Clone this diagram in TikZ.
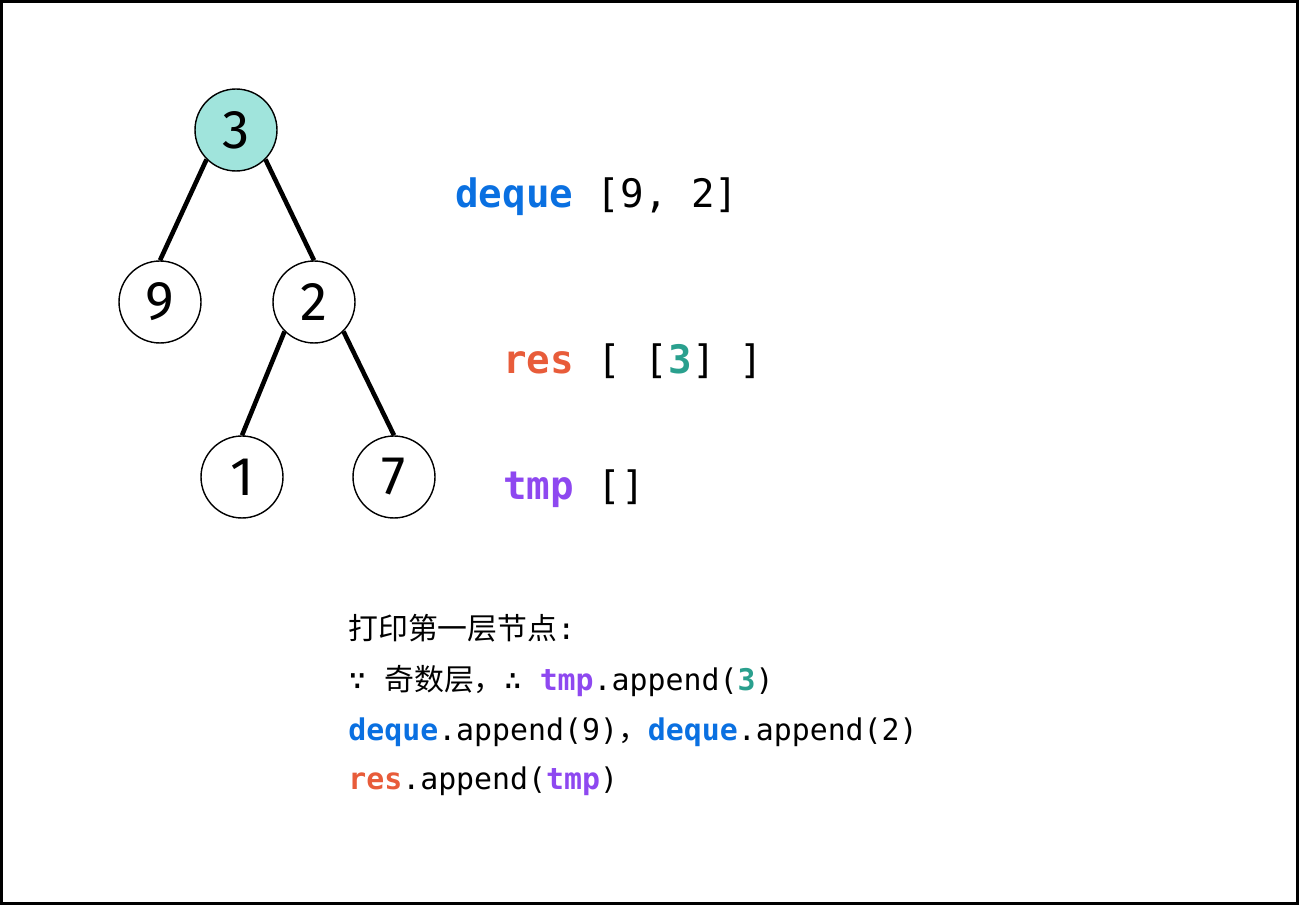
\documentclass[tikz,border=0pt]{standalone}
\usepackage{fontspec}
\setmainfont{Fira Sans}
\setmonofont{DejaVu Sans Mono}
\newfontfamily\cjk{Noto Sans CJK SC}
\definecolor{dqblue}{RGB}{10,112,225}
\definecolor{resred}{RGB}{232,92,58}
\definecolor{tmppurple}{RGB}{142,72,240}
\definecolor{valteal}{RGB}{42,160,142}
\definecolor{rootfill}{RGB}{160,228,220}
\newcommand{\dq}{\textcolor{dqblue}{\textbf{deque}}}
\newcommand{\rs}{\textcolor{resred}{\textbf{res}}}
\newcommand{\tp}{\textcolor{tmppurple}{\textbf{tmp}}}
\newcommand{\three}{\textcolor{valteal}{\textbf{3}}}
\tikzset{
  tnode/.style={circle,draw,line width=0.8pt,minimum size=1.64cm,inner sep=0pt,font=\fontsize{31}{31}\selectfont},
  tedge/.style={line width=2.6pt},
  bigcode/.style={anchor=base west,inner sep=0pt,font=\ttfamily\fontsize{22.3}{26}\selectfont},
  code/.style={anchor=base west,inner sep=0pt,font=\ttfamily\fontsize{17}{20}\selectfont}
}
\begin{document}
\begin{tikzpicture}[x=0.02cm,y=-0.02cm]
\useasboundingbox (0,0) rectangle (1299,905);
\draw[line width=0.06cm] (1.5,1.5) rectangle (1297.5,903.5);
% tree
\node[tnode,fill=rootfill] (n3) at (236,130) {3};
\node[tnode] (n9) at (160,302) {9};
\node[tnode] (n2) at (314,302) {2};
\node[tnode] (n1) at (242,477) {1};
\node[tnode] (n7) at (394,477) {7};
\draw[tedge] (n3.south west)--(n9.north);
\draw[tedge] (n3.south east)--(n2.north);
\draw[tedge] (n2.south west)--(n1.north);
\draw[tedge] (n2.south east)--(n7.north);
% state
\node[bigcode] (dqstate) at (455,208) {\dq{} [9, 2]};
\node[bigcode] (resstate) at (503,374) {\rs{} [ [\three] ]};
\node[bigcode] (tmpstate) at (503,500) {\tp{} []};
% explanation
\node[code] (line1) at (348,640) {{\cjk 打印第一层节点}:};
\node[code] (line2) at (348,690) {∵ {\cjk 奇数层，}∴ \tp.append(\three)};
\node[code] (line3) at (348,740) {\dq.append(9){\cjk ，}\dq.append(2)};
\node[code] (line4) at (348,789) {\rs.append(\tp)};
\end{tikzpicture}
\end{document}
